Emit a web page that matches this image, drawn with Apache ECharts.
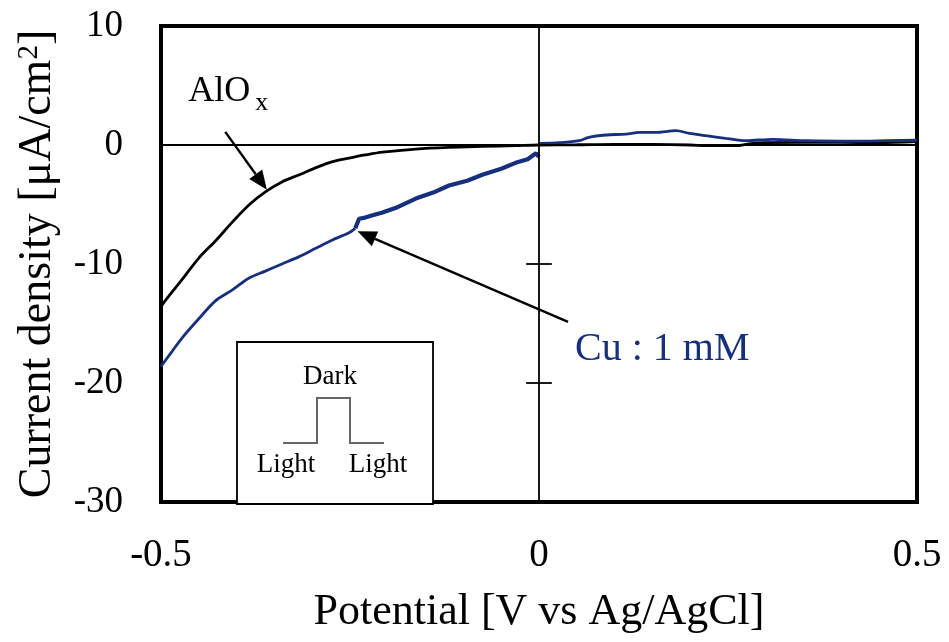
<!DOCTYPE html>
<html>
<head>
<meta charset="utf-8">
<script src="https://cdn.jsdelivr.net/npm/echarts@6/dist/echarts.min.js"></script>
<style>
html,body{margin:0;padding:0;background:#fff;}
#chart{width:949px;height:642px;}
</style>
</head>
<body>
<div id="chart"></div>
<script>
// ---- data ----
var xTicks = [-0.5, 0, 0.5];
var yTicks = [-30, -20, -10, 0, 10];

// AlOx curve  [potential V, current density uA/cm2]
var alox = [
  [-0.500,-13.6],[-0.497,-13.3],[-0.472,-11.3],[-0.450,-9.5],[-0.427,-8.0],[-0.406,-6.5],
  [-0.383,-5.0],[-0.361,-3.9],[-0.340,-3.1],[-0.317,-2.5],[-0.295,-1.9],[-0.273,-1.4],
  [-0.251,-1.1],[-0.230,-0.84],[-0.207,-0.6],[-0.163,-0.34],[-0.119,-0.2],[-0.075,-0.12],
  [-0.030,-0.05],[0.000,0.0],[0.050,0.02],[0.100,0.06],[0.150,0.04],[0.200,0.0],
  [0.220,-0.05],[0.260,-0.06],[0.280,0.12],[0.300,0.2],[0.400,0.22],[0.450,0.2],[0.500,0.28]
];
// Cu 1 mM curve, smooth low-potential part
var cuLow = [
  [-0.500,-18.6],[-0.486,-17.4],[-0.472,-16.2],[-0.450,-14.6],[-0.428,-13.1],[-0.406,-12.2],
  [-0.384,-11.2],[-0.362,-10.6],[-0.340,-10.0],[-0.318,-9.4],[-0.296,-8.7],[-0.274,-8.0],
  [-0.252,-7.4],[-0.243,-7.0]
];
// Cu 1 mM curve, noisy part up to 0 V
var cuNoisy = [
  [-0.243,-7.0],[-0.238,-6.2],[-0.230,-6.1],[-0.220,-5.9],[-0.208,-5.7],[-0.190,-5.3],
  [-0.163,-4.5],[-0.140,-4.0],[-0.119,-3.4],[-0.095,-3.0],[-0.075,-2.5],[-0.050,-2.0],
  [-0.031,-1.5],[-0.015,-1.2],[-0.004,-0.7],[0.000,-1.0]
];
// Cu 1 mM curve, positive potential part
var cuPos = [
  [0.000,0.14],[0.027,0.2],[0.053,0.36],[0.066,0.65],[0.088,0.84],[0.115,0.92],[0.133,1.06],
  [0.155,1.06],[0.181,1.2],[0.199,0.98],[0.221,0.78],[0.247,0.56],[0.274,0.36],[0.309,0.48],
  [0.353,0.36],[0.419,0.32],[0.460,0.36],[0.500,0.4]
];

var FONT = 'Liberation Serif';
var BLUE = '#16307f';

var chart = echarts.init(document.getElementById('chart'));
var option = {
  backgroundColor: '#fff',
  animation: false,
  grid: {left: 161, top: 26, width: 756, height: 476, show: true,
         borderColor: '#000', borderWidth: 4, backgroundColor: 'transparent'},
  xAxis: {
    type: 'value', min: xTicks[0], max: xTicks[xTicks.length-1], interval: 0.5,
    axisLine: {show: false}, axisTick: {show: false}, splitLine: {show: false},
    axisLabel: {color: '#000', fontFamily: FONT, fontSize: 39, margin: 34,
                formatter: function(v){ return xTicks.indexOf(v) >= 0 ? String(v) : ''; }},
    name: 'Potential [V vs Ag/AgCl]', nameLocation: 'middle', nameGap: 88,
    nameTextStyle: {color: '#000', fontFamily: FONT, fontSize: 44}
  },
  yAxis: {
    type: 'value', min: yTicks[0], max: yTicks[yTicks.length-1], interval: 10,
    axisLine: {show: false}, axisTick: {show: false}, splitLine: {show: false},
    axisLabel: {color: '#000', fontFamily: FONT, fontSize: 37, margin: 38},
    name: 'Current density [μA/cm{s|2}]', nameLocation: 'middle', nameGap: 100, nameRotate: 90,
    nameTextStyle: {color: '#000', fontFamily: FONT, fontSize: 46,
                    rich: {s: {fontFamily: FONT, fontSize: 29, verticalAlign: 'top', padding:[0,0,15,0]}}}
  },
  series: [
    {
      name: 'axes', type: 'line', data: [], silent: true,
      markLine: {
        silent: true, symbol: 'none', label: {show: false},
        lineStyle: {color: '#000', width: 1.8, type: 'solid'},
        data: [
          [{coord: [xTicks[0], 0]}, {coord: [xTicks[2], 0]}],
          [{coord: [0, yTicks[0]]}, {coord: [0, yTicks[4]]}],
          [{coord: [-0.017, -10]}, {coord: [0.017, -10]}],
          [{coord: [-0.017, -20]}, {coord: [0.017, -20]}]
        ]
      }
    },
    {name: 'AlOx', type: 'line', data: alox, symbol: 'none', smooth: 0.3,
     lineStyle: {color: '#000', width: 2.8}, z: 3},
    {name: 'Cu : 1 mM', type: 'line', data: cuLow, symbol: 'none', smooth: 0.3,
     lineStyle: {color: BLUE, width: 2.8}, z: 4},
    {name: 'Cu : 1 mM noisy', type: 'line', data: cuNoisy, symbol: 'none', smooth: false,
     lineStyle: {color: BLUE, width: 4.2}, z: 4},
    {name: 'Cu : 1 mM pos', type: 'line', data: cuPos, symbol: 'none', smooth: 0.3,
     lineStyle: {color: BLUE, width: 2.8}, z: 4}
  ]
};
chart.setOption(option);

// annotations placed via data coordinates
function P(x, y){ return chart.convertToPixel({gridIndex: 0}, [x, y]); }
function arrow(from, to, color){
  var a = P(from[0], from[1]), b = P(to[0], to[1]);
  var ang = Math.atan2(b[1]-a[1], b[0]-a[0]);
  var L = 19, W = 8;
  var bx = b[0] - L*Math.cos(ang), by = b[1] - L*Math.sin(ang);
  var nx = -Math.sin(ang), ny = Math.cos(ang);
  return [
    {type: 'line', shape: {x1: a[0], y1: a[1], x2: bx, y2: by},
     style: {stroke: color, lineWidth: 2.4}, z: 10},
    {type: 'polygon', shape: {points: [[b[0], b[1]], [bx+nx*W, by+ny*W], [bx-nx*W, by-ny*W]]},
     style: {fill: color}, z: 10}
  ];
}
var alLabel = P(-0.464, 4.5);
var cuLabel = P(0.0476, -17.2);
var g = [];
g = g.concat(arrow([-0.415, 1.1], [-0.360, -3.75], '#000'));
g = g.concat(arrow([0.0384, -14.87], [-0.240, -7.25], '#000'));
g.push({type: 'text', x: alLabel[0], y: alLabel[1], z: 10,
  style: {text: 'AlO', font: '36px "Liberation Serif"', fill: '#000', textVerticalAlign: 'middle'}});
g.push({type: 'text', x: alLabel[0] + 67, y: alLabel[1] + 12, z: 10,
  style: {text: 'x', font: '26px "Liberation Serif"', fill: '#000', textVerticalAlign: 'middle'}});
g.push({type: 'text', x: cuLabel[0], y: cuLabel[1], z: 10,
  style: {text: 'Cu : 1 mM', font: '40px "Liberation Serif"', fill: BLUE, textVerticalAlign: 'middle'}});
// inset legend (Dark / Light illumination)
g.push({type: 'rect', shape: {x: 237, y: 342, width: 196, height: 162},
  style: {fill: '#fff', stroke: '#000', lineWidth: 1.8}, z: 9});
g.push({type: 'polyline', shape: {points: [[283,443],[317,443],[317,398],[350,398],[350,443],[384,443]]},
  style: {stroke: '#666', lineWidth: 2, fill: null}, z: 10});
g.push({type: 'text', x: 330, y: 377, z: 10,
  style: {text: 'Dark', font: '27px "Liberation Serif"', fill: '#000', textAlign: 'center', textVerticalAlign: 'middle'}});
g.push({type: 'text', x: 286, y: 465, z: 10,
  style: {text: 'Light', font: '27px "Liberation Serif"', fill: '#000', textAlign: 'center', textVerticalAlign: 'middle'}});
g.push({type: 'text', x: 378, y: 465, z: 10,
  style: {text: 'Light', font: '27px "Liberation Serif"', fill: '#000', textAlign: 'center', textVerticalAlign: 'middle'}});
chart.setOption({graphic: {elements: g}});
</script>
</body>
</html>
